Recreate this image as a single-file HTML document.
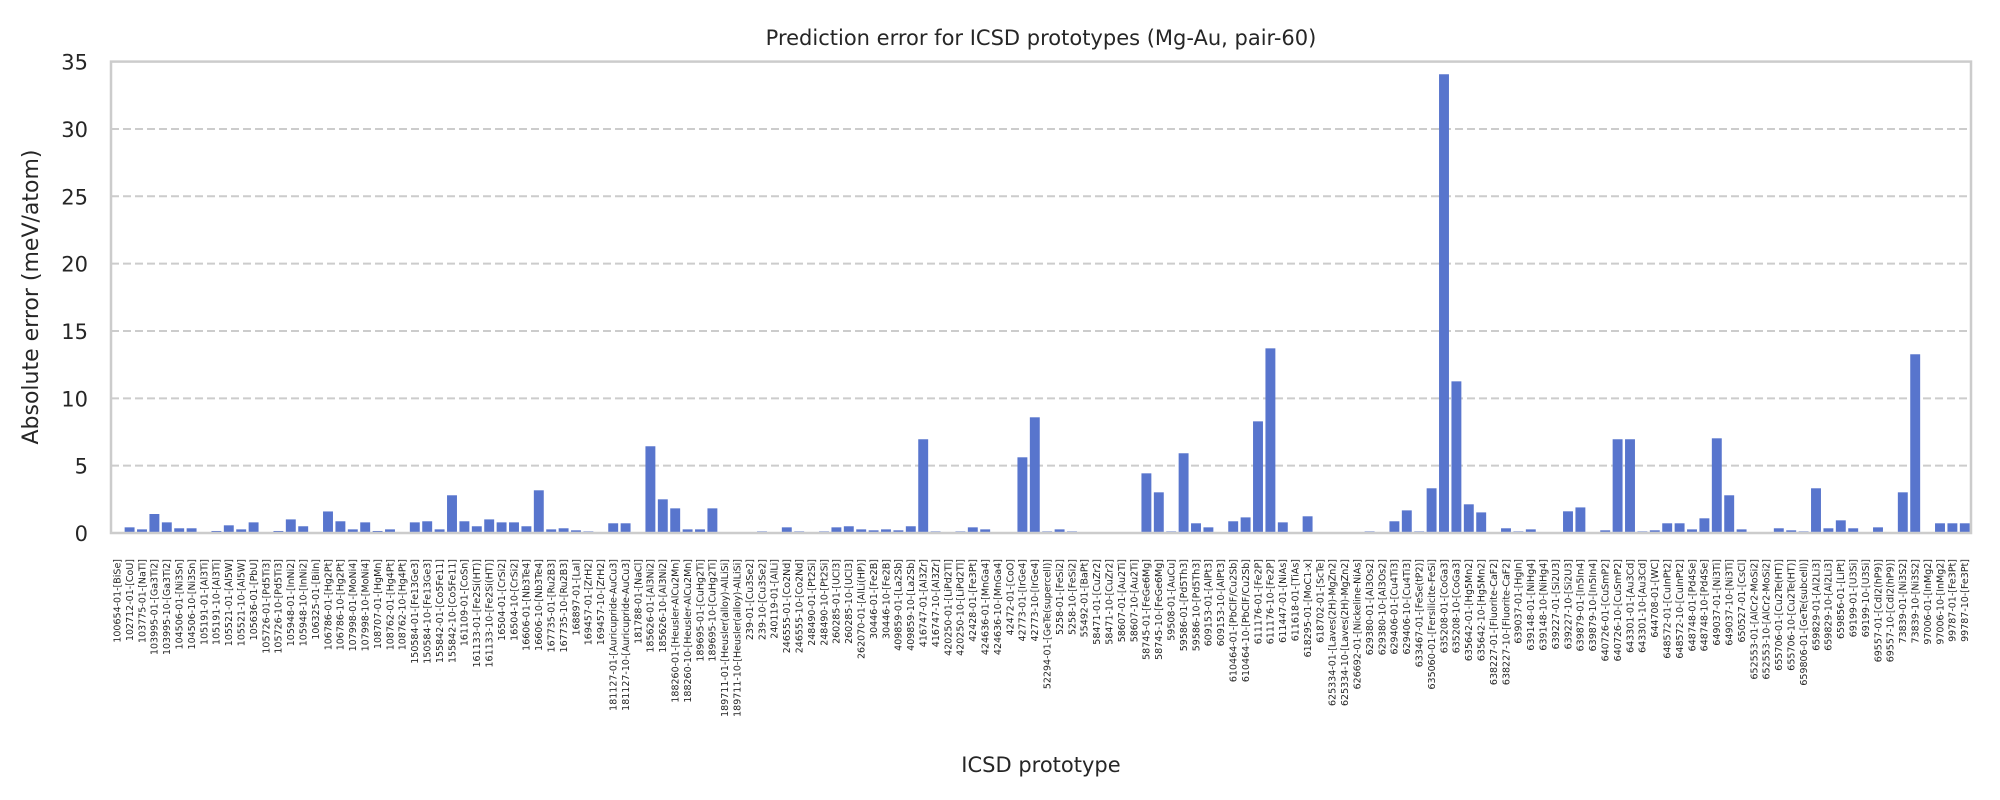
<!DOCTYPE html>
<html><head><meta charset="utf-8"><style>
html,body{margin:0;padding:0;background:#fff;}
svg{display:block;font-family:"DejaVu Sans","Liberation Sans",sans-serif;}
</style></head><body>
<svg id="chart" width="2000" height="800" viewBox="0 0 2000 800" xmlns="http://www.w3.org/2000/svg">
<rect width="2000" height="800" fill="#fff"/>
<text x="1041" y="45" text-anchor="middle" font-size="21" fill="#262626">Prediction error for ICSD prototypes (Mg-Au, pair-60)</text>
<g id="grid"></g>
<g id="bars"></g>
<rect x="111" y="61.6" width="1860" height="471.4" fill="none" stroke="#cccccc" stroke-width="2.5"/>
<g id="yticks"></g>
<g id="xticks"></g>
<text transform="translate(38,297) rotate(-90)" text-anchor="middle" font-size="22" fill="#262626">Absolute error (meV/atom)</text>
<text x="1041" y="772" text-anchor="middle" font-size="21" fill="#262626">ICSD prototype</text>
</svg>
<script>
const categories = ["100654-01-[BiSe]","102712-01-[CoU]","103775-01-[NaTl]","103995-01-[Ga3Ti2]","103995-10-[Ga3Ti2]","104506-01-[Ni3Sn]","104506-10-[Ni3Sn]","105191-01-[Al3Ti]","105191-10-[Al3Ti]","105521-01-[Al5W]","105521-10-[Al5W]","105636-01-[PbU]","105726-01-[Pd5Ti3]","105726-10-[Pd5Ti3]","105948-01-[InNi2]","105948-10-[InNi2]","106325-01-[BiIn]","106786-01-[Hg2Pt]","106786-10-[Hg2Pt]","107998-01-[MoNi4]","107998-10-[MoNi4]","108707-01-[HgMn]","108762-01-[Hg4Pt]","108762-10-[Hg4Pt]","150584-01-[Fe13Ge3]","150584-10-[Fe13Ge3]","155842-01-[Co5Fe11]","155842-10-[Co5Fe11]","161109-01-[CoSn]","161133-01-[Fe2Si(HT)]","161133-10-[Fe2Si(HT)]","16504-01-[CrSi2]","16504-10-[CrSi2]","16606-01-[Nb3Te4]","16606-10-[Nb3Te4]","167735-01-[Ru2B3]","167735-10-[Ru2B3]","168897-01-[LaI]","169457-01-[ZrH2]","169457-10-[ZrH2]","181127-01-[Auricupride-AuCu3]","181127-10-[Auricupride-AuCu3]","181788-01-[NaCl]","185626-01-[Al3Ni2]","185626-10-[Al3Ni2]","188260-01-[Heusler-AlCu2Mn]","188260-10-[Heusler-AlCu2Mn]","189695-01-[CuHg2Ti]","189695-10-[CuHg2Ti]","189711-01-[Heusler(alloy)-AlLiSi]","189711-10-[Heusler(alloy)-AlLiSi]","239-01-[Cu3Se2]","239-10-[Cu3Se2]","240119-01-[AlLi]","246555-01-[Co2Nd]","246555-10-[Co2Nd]","248490-01-[Pt2Si]","248490-10-[Pt2Si]","260285-01-[UCl3]","260285-10-[UCl3]","262070-01-[AlLi(HP)]","30446-01-[Fe2B]","30446-10-[Fe2B]","409859-01-[La2Sb]","409859-10-[La2Sb]","416747-01-[Al3Zr]","416747-10-[Al3Zr]","420250-01-[LiPd2Tl]","420250-10-[LiPd2Tl]","42428-01-[Fe3Pt]","424636-01-[MnGa4]","424636-10-[MnGa4]","42472-01-[CoO]","42773-01-[IrGe4]","42773-10-[IrGe4]","52294-01-[GeTe(supercell)]","5258-01-[FeSi2]","5258-10-[FeSi2]","55492-01-[BaPt]","58471-01-[CuZr2]","58471-10-[CuZr2]","58607-01-[Au2Ti]","58607-10-[Au2Ti]","58745-01-[FeGe6Mg]","58745-10-[FeGe6Mg]","59508-01-[AuCu]","59586-01-[Pd5Th3]","59586-10-[Pd5Th3]","609153-01-[AlPt3]","609153-10-[AlPt3]","610464-01-[PbClF/Cu2Sb]","610464-10-[PbClF/Cu2Sb]","611176-01-[Fe2P]","611176-10-[Fe2P]","611447-01-[NiAs]","611618-01-[TiAs]","618295-01-[MoC1-x]","618702-01-[ScTe]","625334-01-[Laves(2H)-MgZn2]","625334-10-[Laves(2H)-MgZn2]","626692-01-[Nickeline-NiAs]","629380-01-[Al3Os2]","629380-10-[Al3Os2]","629406-01-[Cu4Ti3]","629406-10-[Cu4Ti3]","633467-01-[FeSe(tP2)]","635060-01-[Fersilicite-FeSi]","635208-01-[CoGa3]","635208-10-[CoGa3]","635642-01-[Hg5Mn2]","635642-10-[Hg5Mn2]","638227-01-[Fluorite-CaF2]","638227-10-[Fluorite-CaF2]","639037-01-[HgIn]","639148-01-[NiHg4]","639148-10-[NiHg4]","639227-01-[Si2U3]","639227-10-[Si2U3]","639879-01-[In5In4]","639879-10-[In5In4]","640726-01-[CuSmP2]","640726-10-[CuSmP2]","643301-01-[Au3Cd]","643301-10-[Au3Cd]","644708-01-[WC]","648572-01-[CuInPt2]","648572-10-[CuInPt2]","648748-01-[Pd4Se]","648748-10-[Pd4Se]","649037-01-[Ni3Ti]","649037-10-[Ni3Ti]","650527-01-[CsCl]","652553-01-[AlCr2-MoSi2]","652553-10-[AlCr2-MoSi2]","655706-01-[Cu2Te(HT)]","655706-10-[Cu2Te(HT)]","659806-01-[GeTe(subcell)]","659829-01-[Al2Li3]","659829-10-[Al2Li3]","659856-01-[LiPt]","69199-01-[U3Si]","69199-10-[U3Si]","69557-01-[CdI2(hP9)]","69557-10-[CdI2(hP9)]","73839-01-[Ni3S2]","73839-10-[Ni3S2]","97006-01-[InMg2]","97006-10-[InMg2]","99787-01-[Fe3Pt]","99787-10-[Fe3Pt]"];
const errors = [0.07,0.42,0.27,1.41,0.79,0.35,0.35,0.07,0.15,0.57,0.27,0.79,0,0.15,1.01,0.5,0,1.6,0.87,0.27,0.79,0.15,0.27,0,
0.79,0.87,0.27,2.8,0.87,0.5,1.01,0.79,0.79,0.5,3.17,0.27,0.35,0.2,0.12,0.05,0.72,0.72,0,6.44,2.5,1.83,0.27,0.27,1.83,0.05,0,0,0.12,0.05,0.42,0.12,
0.05,0.12,0.42,0.5,0.27,0.2,0.27,0.2,0.5,6.96,0.12,0.05,0.12,0.42,0.27,0.05,0,5.62,8.59,0.12,0.27,0.12,0.05,0.05,0,0,0,4.43,3.02,0.12,5.92,0.72,
0.42,0.05,0.87,1.16,8.29,13.71,0.79,0.05,1.24,0,0,0.05,0,0.12,0,0.87,1.68,0.12,3.32,34.06,11.26,2.13,1.53,0,0.35,0.12,0.27,0,0.05,1.61,1.9,
0,0.2,6.96,6.96,0.12,0.2,0.72,0.72,0.27,1.09,7.03,2.8,0.27,0,0.05,0.35,0.2,0.12,3.32,0.35,0.94,0.35,0,0.42,0,3.02,13.27,0,0.72,0.72,0.72];
const yTicks = [0,5,10,15,20,25,30,35];

const NS = "http://www.w3.org/2000/svg";
const X0 = 111, X1 = 1971, Y0 = 533, Y1 = 61.6, YMAX = 35;
const step = (X1 - X0) / categories.length;
function xScale(i){ return X0 + step * (i + 0.5); }
function yScale(v){ return Y0 - (v / YMAX) * (Y0 - Y1); }

const grid = document.getElementById('grid');
const yt = document.getElementById('yticks');
yTicks.forEach(t => {
  if (t > 0 && t < YMAX) {
    const l = document.createElementNS(NS, 'line');
    l.setAttribute('x1', X0); l.setAttribute('x2', X1);
    l.setAttribute('y1', yScale(t)); l.setAttribute('y2', yScale(t));
    l.setAttribute('stroke', '#cccccc'); l.setAttribute('stroke-width', '2');
    l.setAttribute('stroke-dasharray', '8,4');
    
    
    grid.appendChild(l);
  }
  const tx = document.createElementNS(NS, 'text');
  tx.setAttribute('x', 88); tx.setAttribute('y', yScale(t) + 8);
  tx.setAttribute('text-anchor', 'end'); tx.setAttribute('font-size', '21');
  tx.setAttribute('fill', '#262626');
  tx.textContent = t;
  
  
  yt.appendChild(tx);
});

const bars = document.getElementById('bars');
const xt = document.getElementById('xticks');
const bw = step * 0.8;
categories.forEach((c, i) => {
  const v = errors[i];
  const r = document.createElementNS(NS, 'rect');
  r.setAttribute('x', xScale(i) - bw / 2);
  r.setAttribute('y', yScale(v));
  r.setAttribute('width', bw);
  r.setAttribute('height', Math.max(0, Y0 - yScale(v)));
  r.setAttribute('fill', '#5875cd');
  
  
  bars.appendChild(r);
  const t = document.createElementNS(NS, 'text');
  const x = xScale(i) + 3.3, y = 559;
  t.setAttribute('x', x); t.setAttribute('y', y);
  t.setAttribute('transform', 'rotate(-90 ' + x + ' ' + y + ')');
  t.setAttribute('text-anchor', 'end');
  t.setAttribute('font-size', '9.5');
  t.setAttribute('fill', '#262626');
  t.textContent = c;
  
  
  xt.appendChild(t);
});
</script>
</body></html>
